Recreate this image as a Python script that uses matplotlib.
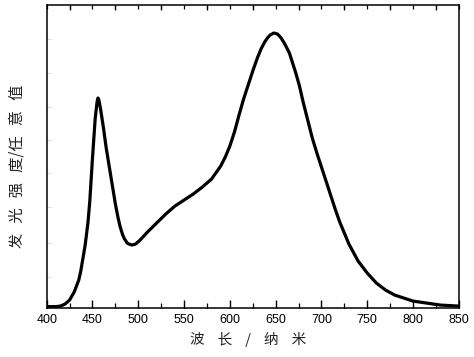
import matplotlib
matplotlib.use("Agg")
import matplotlib.pyplot as plt
from matplotlib.ticker import MultipleLocator, FixedLocator

# emission spectrum (intensity in arbitrary units)
wavelength = [400, 410, 415, 420, 425, 430, 435, 437, 440, 442, 445, 447, 450, 453,
              455, 456, 457, 459, 462, 465, 470, 475, 478, 480, 483, 485, 488, 490,
              493, 497, 502, 510, 520, 530, 540, 550, 560, 570, 580, 590, 595, 600,
              605, 610, 615, 620, 625, 630, 634, 638, 641, 644, 648, 652, 656, 660,
              665, 672, 676, 680, 685, 690, 695, 700, 705, 710, 715, 720, 725, 730,
              740, 750, 760, 770, 780, 790, 800, 815, 830, 850]
intensity = [1.5, 1.5, 2, 4, 8, 16, 28, 36, 52, 63, 85, 106, 150, 190,
             206, 210, 208, 198, 180, 160, 132, 104, 90, 82, 73, 69, 65, 64,
             63, 64, 68, 76, 85, 94, 102, 108, 114, 121, 129, 142, 151, 162,
             176, 193, 209, 223, 237, 250, 259, 266, 270, 273, 275, 274, 270, 264,
             255, 235, 222, 206, 188, 170, 155, 141, 127, 113, 99, 86, 75, 64,
             47, 35, 25, 18, 13, 10, 7, 5, 3, 2]

x_ticks = [400, 450, 500, 550, 600, 650, 700, 750, 800, 850]
y_marks = [31, 65, 101, 135, 168, 201, 235, 269]

xlabel = "波    长    /    纳    米"
ylabel = "发   光   强   度/任   意   值"

fig = plt.figure(figsize=(4.74, 3.57), dpi=100)
ax = fig.add_axes([0.0985, 0.137, 0.8695, 0.849])

ax.plot(wavelength, intensity, color="black", lw=2.3,
        solid_joinstyle="round", solid_capstyle="round")

ax.set_xlim(400, 850)
ax.set_ylim(0, 303)

ax.xaxis.set_major_locator(FixedLocator(x_ticks))
ax.xaxis.set_minor_locator(MultipleLocator(25))
ax.tick_params(axis="x", which="major", direction="in", length=6, width=1.0,
               top=False, labelsize=9, pad=4)
ax.tick_params(axis="x", which="minor", direction="in", length=3.5, width=0.9,
               top=True)

# faint unlabeled ticks on the intensity axis
ax.yaxis.set_major_locator(FixedLocator(y_marks))
ax.tick_params(axis="y", which="major", direction="in", length=3, width=0.8,
               color="#dddddd", labelleft=False)

for lbl in ax.get_xticklabels():
    lbl.set_fontfamily("Liberation Sans")

for s in ax.spines.values():
    s.set_linewidth(1.1)

# top axis has ticks every 25 nm
top = ax.secondary_xaxis("top")
top.xaxis.set_major_locator(MultipleLocator(25))
top.tick_params(direction="in", length=3, width=0.9, labeltop=False)
top.spines["top"].set_visible(False)

cjk = ["Noto Sans CJK SC", "DejaVu Sans"]
fig.text(0.523, 0.048, xlabel, ha="center", va="center", fontsize=10.5,
         family=cjk, color="#222222")
fig.text(0.036, 0.535, ylabel, ha="center", va="center", fontsize=11,
         family=cjk, color="#222222", rotation=90)

fig.savefig("out.png", dpi=100)
